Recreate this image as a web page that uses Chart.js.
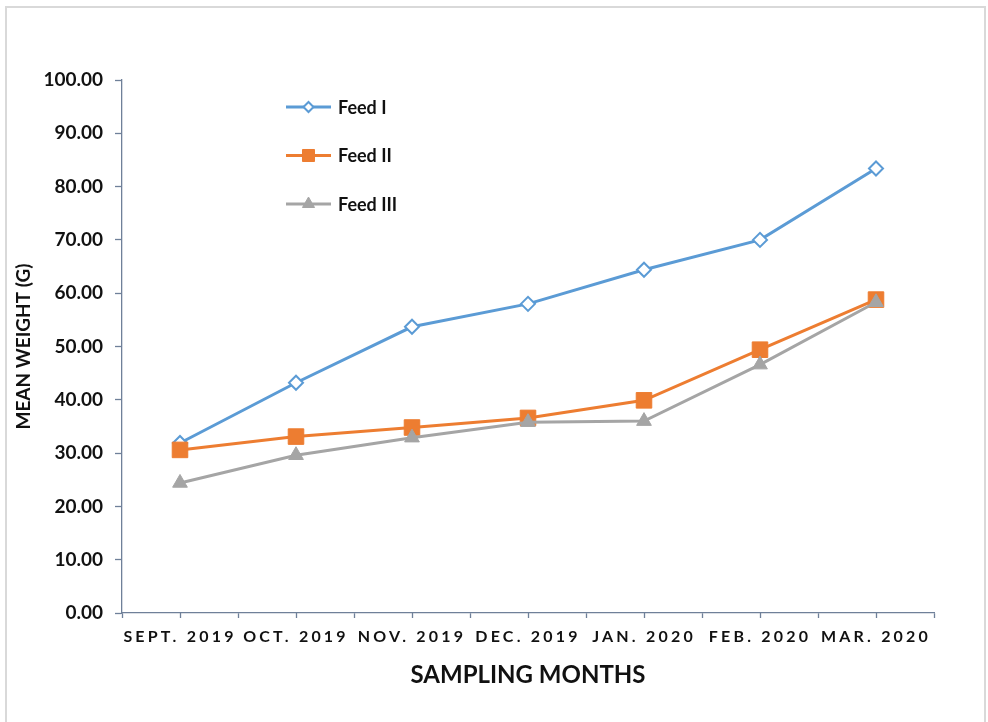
<!DOCTYPE html>
<html>
<head>
<meta charset="utf-8">
<script src="https://cdn.jsdelivr.net/npm/chart.js@4"></script>
<style>
  html, body { margin: 0; padding: 0; background: #fff; overflow: hidden; }
  #frame {
    position: absolute; left: 5px; top: 6px; width: 981px; height: 800px;
    box-sizing: border-box; border: 2px solid #d9d9d9;
  }
  #c { position: absolute; left: 0; top: 0; }
</style>
</head>
<body>
<div id="frame"></div>
<canvas id="c" width="988" height="722"></canvas>
<script>
// Sampling months and mean weight (g) per feed
const months = ['SEPT. 2019', 'OCT. 2019', 'NOV. 2019', 'DEC. 2019', 'JAN. 2020', 'FEB. 2020', 'MAR. 2020'];
const feed1 = [31.9, 43.2, 53.7, 58.0, 64.4, 70.0, 83.4];
const feed2 = [30.6, 33.1, 34.8, 36.6, 39.9, 49.4, 58.8];
const feed3 = [24.4, 29.6, 32.9, 35.8, 36.0, 46.6, 58.3];
const seriesNames = ['Feed I', 'Feed II', 'Feed III'];

const FONT = 'Lato, "Open Sans", sans-serif';
const TEXT = '#111';
const AXIS = '#6f8099';

// Legend drawn inside the plot area, one row per series
const insideLegend = {
  id: 'insideLegend',
  afterDraw(chart) {
    const ctx = chart.ctx;
    const rows = [107, 155.5, 204];
    const sizes = [5, 8.5, 7];
    chart.data.datasets.forEach((ds, i) => {
      const y = rows[i];
      ctx.save();
      ctx.strokeStyle = ds.borderColor;
      ctx.lineWidth = 3;
      ctx.beginPath();
      ctx.moveTo(286, y);
      ctx.lineTo(331, y);
      ctx.stroke();
      ctx.fillStyle = ds.pointBackgroundColor;
      ctx.strokeStyle = ds.pointBorderColor;
      ctx.lineWidth = ds.pointBorderWidth;
      Chart.helpers.drawPoint(ctx, {
        pointStyle: ds.pointStyle, radius: sizes[i], rotation: 0, borderWidth: ds.pointBorderWidth
      }, 308.5, y);
      ctx.fillStyle = TEXT;
      ctx.font = 'bold 18px ' + FONT;
      ctx.textAlign = 'left';
      ctx.textBaseline = 'middle';
      ctx.fillText(ds.label, 338, y + 1);
      ctx.restore();
    });
  }
};

// Wide letter spacing for the month labels
const spacedMonthLabels = {
  id: 'spacedMonthLabels',
  beforeDraw(chart) {
    const sx = chart.scales.x;
    if (sx && !sx._spaced) {
      const orig = sx.drawLabels.bind(sx);
      sx.drawLabels = function (area) {
        const ctx = this.ctx;
        ctx.save();
        ctx.letterSpacing = '3.2px';
        orig(area);
        ctx.restore();
      };
      sx._spaced = true;
    }
  }
};

new Chart(document.getElementById('c'), {
  type: 'line',
  data: {
    labels: months,
    datasets: [
      {
        label: seriesNames[0], data: feed1, order: 3,
        borderColor: '#5b9bd5', borderWidth: 3, tension: 0,
        pointStyle: 'rectRot', pointRadius: 7, pointBorderWidth: 2,
        pointBackgroundColor: '#ffffff', pointBorderColor: '#5b9bd5'
      },
      {
        label: seriesNames[1], data: feed2, order: 2,
        borderColor: '#ed7d31', borderWidth: 3, tension: 0,
        pointStyle: 'rect', pointRadius: 11, pointBorderWidth: 1,
        pointBackgroundColor: '#ed7d31', pointBorderColor: '#ed7d31'
      },
      {
        label: seriesNames[2], data: feed3, order: 1,
        borderColor: '#a5a5a5', borderWidth: 3, tension: 0,
        pointStyle: 'triangle', pointRadius: 8.5, pointBorderWidth: 1,
        pointBackgroundColor: '#a5a5a5', pointBorderColor: '#a5a5a5'
      }
    ]
  },
  options: {
    responsive: false,
    animation: false,
    events: [],
    layout: { padding: { left: 0, top: 80, right: 54, bottom: 0 } },
    plugins: { legend: { display: false }, tooltip: { enabled: false } },
    scales: {
      x: {
        type: 'category',
        weight: 1,
        offset: true,
        grid: { offset: true, drawOnChartArea: false, drawTicks: true, tickLength: 5, color: AXIS, tickWidth: 1.3 },
        border: { display: true, color: AXIS, width: 1.3 },
        ticks: {
          autoSkip: false, maxRotation: 0, minRotation: 0, padding: 9,
          color: TEXT, font: { family: FONT, size: 16, weight: 'bold' }
        },
        title: {
          display: true, text: 'SAMPLING MONTHS', color: TEXT,
          font: { family: FONT, size: 24, weight: 'bold' },
          padding: { top: 0, bottom: 32 }
        },
        afterFit(scale) { scale.height = 109; }
      },
      x2: {
        type: 'category',
        weight: 0,
        position: 'bottom',
        labels: months,
        offset: true,
        grid: { offset: false, drawOnChartArea: false, drawTicks: true, tickLength: 5, color: AXIS, tickWidth: 1.3 },
        border: { display: false },
        ticks: { display: false },
        afterFit(scale) { scale.height = 0; }
      },
      y: {
        min: 0, max: 100,
        grid: { drawOnChartArea: false, drawTicks: true, tickLength: 7, color: AXIS, tickWidth: 1.3 },
        border: { display: true, color: AXIS, width: 1.3 },
        ticks: {
          stepSize: 10, padding: 12, color: TEXT,
          font: { family: FONT, size: 19, weight: 'bold' },
          callback: (v) => Number(v).toFixed(2)
        },
        title: {
          display: true, text: 'MEAN WEIGHT (G)', color: TEXT,
          font: { family: FONT, size: 19, weight: 'bold' },
          padding: { top: 12, bottom: 0 }
        },
        afterFit(scale) { scale.width = 122; }
      }
    }
  },
  plugins: [spacedMonthLabels, insideLegend]
});
</script>
</body>
</html>
